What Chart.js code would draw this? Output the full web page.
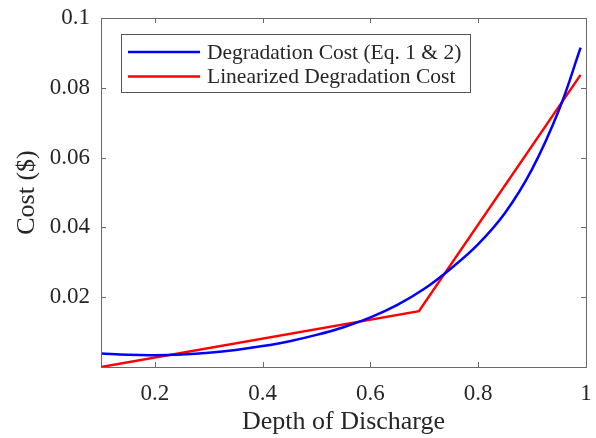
<!DOCTYPE html>
<html>
<head>
<meta charset="utf-8">
<script src="https://cdn.jsdelivr.net/npm/chart.js@4"></script>
<style>
    html, body { margin: 0; padding: 0; background: #fff; }
    #wrap { width: 596px; height: 438px; }
</style>
</head>
<body>
<div id="wrap"><canvas id="costChart"></canvas></div>
<script>
// Degradation cost curve.
const dodCurve = [0.10, 0.15, 0.20, 0.25, 0.30, 0.35, 0.40, 0.45, 0.50, 0.55, 0.60, 0.65, 0.70, 0.75, 0.80, 0.85, 0.90, 0.95, 0.99];
const costCurve = [0.0039, 0.0035, 0.0034, 0.0036, 0.0041, 0.0049, 0.0060, 0.0074, 0.0092, 0.0114, 0.0142, 0.0178, 0.0224, 0.0283, 0.0352, 0.0442, 0.0567, 0.0737, 0.0915];

// Piecewise linear approximation.
const dodLinear = [0.10, 0.69, 0.99];
const costLinear = [0.0, 0.016, 0.0837];

const xTicks = [0.2, 0.4, 0.6, 0.8, 1];
const yTicks = [0.02, 0.04, 0.06, 0.08, 0.1];

const seriesLabels = ['Degradation Cost (Eq. 1 & 2)', 'Linearized Degradation Cost'];
const seriesColors = ['#0000ff', '#ff0000'];

const FONT = "'Liberation Serif', 'Times New Roman', serif";
const TEXT = '#262626';
const AXIS = '#6a6a6a';

// MATLAB style box with inward ticks on all four sides.
const boxAxes = {
    id: 'boxAxes',
    afterDatasetsDraw(chart) {
        const {ctx, chartArea: a, scales: {x, y}} = chart;
        const len = 5;
        ctx.save();
        ctx.strokeStyle = AXIS;
        ctx.lineWidth = 1;
        ctx.beginPath();
        xTicks.forEach(v => {
            const px = Math.round(x.getPixelForValue(v)) + 0.5;
            ctx.moveTo(px, a.bottom); ctx.lineTo(px, a.bottom - len);
            ctx.moveTo(px, a.top); ctx.lineTo(px, a.top + len);
        });
        yTicks.forEach(v => {
            const py = Math.round(y.getPixelForValue(v)) + 0.5;
            ctx.moveTo(a.left, py); ctx.lineTo(a.left + len, py);
            ctx.moveTo(a.right, py); ctx.lineTo(a.right - len, py);
        });
        ctx.stroke();
        ctx.strokeRect(Math.round(a.left) + 0.5, Math.round(a.top) + 0.5, Math.round(a.right - a.left), Math.round(a.bottom - a.top));
        ctx.restore();
    }
};

// Legend box drawn inside the plot area, top left.
const insideLegend = {
    id: 'insideLegend',
    afterDraw(chart) {
        const {ctx, chartArea: a} = chart;
        const sets = chart.data.datasets;
        ctx.save();
        ctx.font = '21.5px ' + FONT;
        const textW = Math.max(...sets.map(d => ctx.measureText(d.label).width));
        const left = a.left + 20, top = a.top + 16;
        const lineLen = 72, pad = 7;
        const w = pad + lineLen + pad + textW + 9;
        const h = 58;
        ctx.fillStyle = '#fff';
        ctx.fillRect(left, top, w, h);
        ctx.strokeStyle = '#555';
        ctx.lineWidth = 1;
        ctx.strokeRect(Math.round(left) + 0.5, Math.round(top) + 0.5, Math.round(w), h);
        sets.forEach((d, i) => {
            const cy = top + 18 + i * 24.5;
            ctx.strokeStyle = d.borderColor;
            ctx.lineWidth = 2.5;
            ctx.beginPath();
            ctx.moveTo(left + pad, cy);
            ctx.lineTo(left + pad + lineLen, cy);
            ctx.stroke();
            ctx.fillStyle = TEXT;
            ctx.textBaseline = 'middle';
            ctx.fillText(d.label, left + pad + lineLen + pad, cy + 1);
        });
        ctx.restore();
    }
};

new Chart(document.getElementById('costChart'), {
    type: 'scatter',
    data: {
        datasets: [
            {
                label: seriesLabels[0],
                data: dodCurve.map((v, i) => ({x: v, y: costCurve[i]})),
                borderColor: seriesColors[0],
                backgroundColor: seriesColors[0],
                borderWidth: 2.5,
                showLine: true,
                pointRadius: 0,
                tension: 0.4,
            },
            {
                label: seriesLabels[1],
                data: dodLinear.map((v, i) => ({x: v, y: costLinear[i]})),
                borderColor: seriesColors[1],
                backgroundColor: seriesColors[1],
                borderWidth: 2.5,
                showLine: true,
                pointRadius: 0,
                tension: 0,
            },
        ],
    },
    options: {
        responsive: true,
        maintainAspectRatio: false,
        animation: false,
        events: [],
        layout: {padding: {top: 18, right: 10, left: 0, bottom: 0}},
        plugins: {
            legend: {display: false},
            tooltip: {enabled: false},
        },
        scales: {
            x: {
                type: 'linear',
                min: 0.1,
                max: 1,
                afterBuildTicks: scale => { scale.ticks = xTicks.map(v => ({value: v})); },
                afterFit: scale => {
                    scale.height = 71;
                    scale.paddingLeft = 0;
                    scale.paddingRight = 0;
                },
                grid: {display: false, drawTicks: false},
                border: {display: false},
                ticks: {
                    padding: 13,
                    color: TEXT,
                    font: {family: FONT, size: 23},
                    maxRotation: 0,
                    callback: v => String(v),
                },
                title: {
                    display: true,
                    text: 'Depth of Discharge',
                    color: TEXT,
                    font: {family: FONT, size: 26},
                    padding: {top: 0, bottom: 0},
                },
            },
            y: {
                type: 'linear',
                min: 0,
                max: 0.1,
                afterBuildTicks: scale => { scale.ticks = yTicks.map(v => ({value: v})); },
                afterFit: scale => {
                    scale.width = 101;
                    scale.paddingTop = 0;
                    scale.paddingBottom = 0;
                },
                grid: {display: false, drawTicks: false},
                border: {display: false},
                ticks: {
                    padding: 11,
                    color: TEXT,
                    font: {family: FONT, size: 23},
                    callback: v => String(v),
                },
                title: {
                    display: true,
                    text: 'Cost ($)',
                    color: TEXT,
                    font: {family: FONT, size: 26},
                    padding: {top: 12, bottom: 0},
                },
            },
        },
    },
    plugins: [boxAxes, insideLegend],
});
</script>
</body>
</html>
